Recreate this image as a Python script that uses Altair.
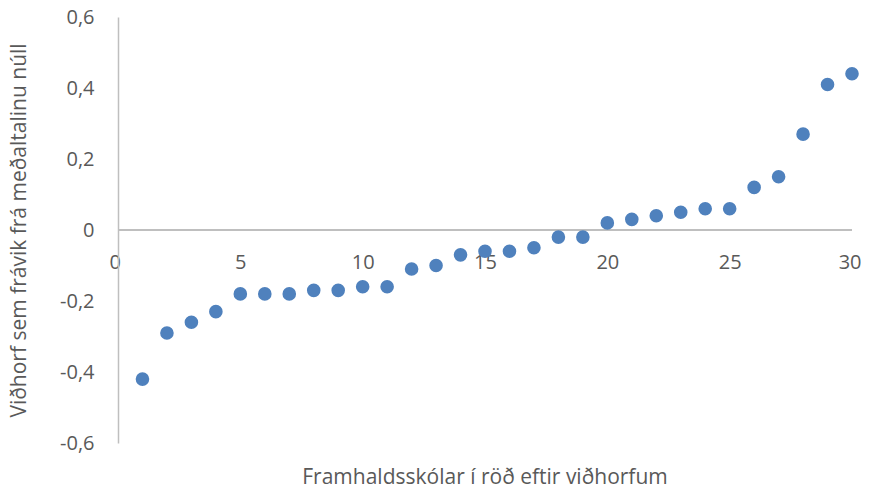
import altair as alt
import pandas as pd

rank = list(range(1, 31))
deviation = [-0.42, -0.29, -0.26, -0.23, -0.18, -0.18, -0.18, -0.17, -0.17, -0.16,
             -0.16, -0.11, -0.10, -0.07, -0.06, -0.06, -0.05, -0.02, -0.02, 0.02,
             0.03, 0.04, 0.05, 0.06, 0.06, 0.12, 0.15, 0.27, 0.41, 0.44]
x_ticks = [0, 5, 10, 15, 20, 25, 30]
y_ticks = [-0.6, -0.4, -0.2, 0, 0.2, 0.4, 0.6]

df = pd.DataFrame({"rank": rank, "dev": deviation})

FONT = "Open Sans"
GREY = "#595959"
LINE = "#bfbfbf"

y_label_expr = ("abs(datum.value) < 1e-9 ? '0' : (datum.value < 0 ? '-' : '') + "
                "replace(format(abs(datum.value), '.1f'), '.', ',')")

points = alt.Chart(df).mark_circle(size=185, color="#4f81bd", opacity=1).encode(
    x=alt.X("rank:Q",
            scale=alt.Scale(domain=[0, 30], nice=False, zero=False),
            axis=alt.Axis(values=x_ticks, title=None, domain=False, ticks=False,
                          grid=False, offset=-213, labelPadding=22,
                          labelFontSize=20, labelColor=GREY, labelFont=FONT,
                          labelFlush=True, labelFlushOffset=9)),
    y=alt.Y("dev:Q",
            scale=alt.Scale(domain=[-0.6, 0.6], nice=False, zero=False),
            axis=alt.Axis(values=y_ticks, labelExpr=y_label_expr, grid=False,
                          ticks=False, domain=True, domainColor=LINE, domainWidth=1.5,
                          labelPadding=24, labelFontSize=20, labelColor=GREY,
                          labelFont=FONT, labelFlush=False,
                          title="Viðhorf sem frávik frá meðaltalinu núll",
                          titleFont=FONT, titleFontSize=21, titleFontWeight="normal",
                          titleColor=GREY, titlePadding=30)),
)

zero_line = alt.Chart(df).mark_rule(color=LINE, strokeWidth=1.5).encode(
    y=alt.datum(0)
)

chart = alt.layer(zero_line, points).properties(
    width=734,
    height=426,
    autosize=alt.AutoSizeParams(type="none"),
    padding={"left": 110, "top": 9, "right": 9, "bottom": 47},
    title=alt.TitleParams(
        "Framhaldsskólar í röð eftir viðhorfum",
        orient="bottom", anchor="middle", font=FONT, fontSize=21,
        fontWeight="normal", color=GREY, offset=14,
    ),
).configure_view(stroke=None)

chart.save("out.html", embed_options={"renderer": "svg", "actions": False})
